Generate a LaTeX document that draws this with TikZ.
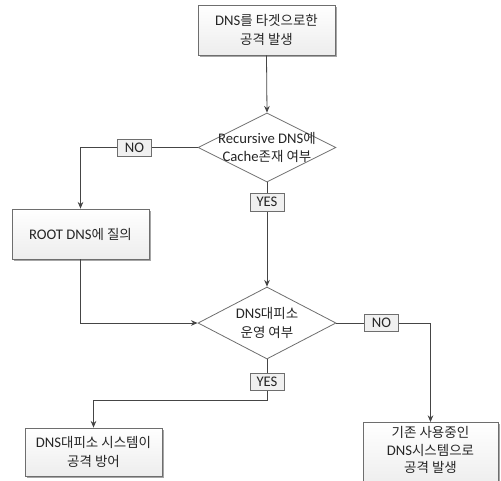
\documentclass[tikz,border=0pt]{standalone}
\usepackage{fontspec}
\setmainfont{Carlito}
\newfontfamily\kr[Scale=0.92]{Noto Sans CJK KR}
\newcommand\K[1]{{\kr #1}}
\usetikzlibrary{shapes.geometric,arrows.meta,shadows}
\definecolor{lncol}{HTML}{454545}
\definecolor{bdcol}{HTML}{6E6E6E}
\definecolor{botcol}{HTML}{EDEDED}
\definecolor{labfill}{HTML}{F0F0F0}
\begin{document}
\begin{tikzpicture}[x=0.75pt,y=-0.75pt,
  txt/.style={font=\fontsize{11}{13.8}\selectfont, align=center, text=black!85},
  box/.style={txt, draw=bdcol, line width=0.6pt, top color=white, bottom color=botcol,
    drop shadow={shadow xshift=1.3pt, shadow yshift=-1.3pt, fill=black, opacity=0.35},
    minimum width=102.75pt, minimum height=37.5pt, inner sep=1pt},
  dia/.style={draw=bdcol, line width=0.6pt, fill=white, diamond, inner sep=0pt,
    minimum width=103.5pt, minimum height=#1},
  lab/.style={txt, draw=bdcol, line width=0.5pt, fill=labfill, inner sep=0pt,
    minimum width=25.5pt, minimum height=13pt},
  conn/.style={draw=lncol, line width=0.6pt},
  arr/.style={conn, -{Stealth[length=5pt,width=4.2pt]}}]
\useasboundingbox (0,0) rectangle (501,480);
\clip (0,0) rectangle (501,480);

\node[box] (start) at (266.5,30) {DNS\K{를 타겟으로한}\\\K{공격 발생}};
\node[dia=51.75pt] (d1) at (267,147.5) {};
\node[txt] (d1t) at (d1.center) {Recursive DNS\K{에}\\Cache\K{존재 여부}};
\node[box] (root) at (80.5,234) {ROOT DNS\K{에 질의}};
\node[dia=54pt] (d2) at (267,323) {};
\node[txt] (d2t) at (d2.center) {DNS\K{대피소}\\\K{운영 여부}};
\node[box, minimum height=36pt] (def) at (93.5,452) {DNS\K{대피소 시스템이}\\\K{공격 방어}};
\node[box, minimum width=101.25pt, minimum height=48pt, anchor=north] (old) at (430.5,422) {};
\node[txt, font=\fontsize{11}{13}\selectfont] (oldt) at (430.5,450) {\K{기존 사용중인}\\DNS\K{시스템으로}\\\K{공격 발생}};

\draw[arr] (start.south) -- (d1.north);
\draw[arr] (d1.west) -| node[lab, pos=0.27] {NO} (root.north);
\draw[arr] (d1.south) -- node[lab, pos=0.19] {YES} (d2.north);
\draw[arr] (root.south) |- (d2.west);
\draw[arr] (d2.east) -| node[lab, pos=0.24] {NO} (old.north);
\draw[arr] (d2.south) -- node[lab, pos=0.54] {YES} ++(0,41) -| (def.north);
\end{tikzpicture}
\end{document}
